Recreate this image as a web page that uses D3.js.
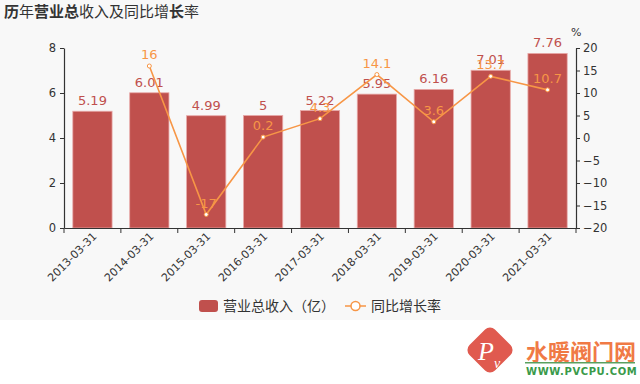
<!DOCTYPE html>
<html><head><meta charset="utf-8">
<script src="https://cdn.jsdelivr.net/npm/d3@7"></script>
<style>body{margin:0;background:#fff;}svg{display:block;font-family:"Noto Sans CJK SC","DejaVu Sans",sans-serif;}</style>
</head><body><svg id="c" width="640" height="384"></svg>
<script>
const categories = ["2013-03-31","2014-03-31","2015-03-31","2016-03-31","2017-03-31","2018-03-31","2019-03-31","2020-03-31","2021-03-31"];
const revenue = [5.19, 6.01, 4.99, 5, 5.22, 5.95, 6.16, 7.01, 7.76];
const growth = [null, 16, -17, 0.2, 4.3, 14.1, 3.6, 13.7, 10.7];
const leftTicks = [0, 2, 4, 6, 8];
const rightTicks = [-20, -15, -10, -5, 0, 5, 10, 15, 20];

const svg = d3.select("#c");
const barColor = "#c0504d", lineColor = "#f79646", axisColor = "#333";
svg.append("rect").attr("x",0).attr("y",0).attr("width",640).attr("height",320).attr("fill","#f8f8f8");

const L = 64, R = 576, T = 48, B = 228;
const x = d3.scaleBand().domain(categories).range([L, R]).paddingInner(0.31).paddingOuter(0.155);
const band = d3.scaleBand().domain(categories).range([L, R]);
const yL = d3.scaleLinear().domain([0, 8]).range([B, T]);
const yR = d3.scaleLinear().domain([-20, 20]).range([B, T]);

// title
const title = svg.append("text").attr("x",4).attr("y",17).attr("font-size",15).attr("fill","#333");
[["历",1],["年",0],["营业总",1],["收入及同比增",0],["长",1],["率",0]].forEach(([t,b])=>{
  title.append("tspan").text(t).attr("font-weight", b?"bold":"normal");
});

// bars
svg.selectAll(".bar").data(categories).enter().append("rect")
  .attr("x", d=>x(d)).attr("width", x.bandwidth())
  .attr("y", (d,i)=>yL(revenue[i])).attr("height",(d,i)=>B-yL(revenue[i]))
  .attr("fill", barColor).attr("stroke","#e8a9a8").attr("stroke-width",0.8);

// axes
const gL = svg.append("g").attr("transform",`translate(${L},0)`)
  .call(d3.axisLeft(yL).tickValues(leftTicks).tickSize(4).tickSizeOuter(0));
const gR = svg.append("g").attr("transform",`translate(${R},0)`)
  .call(d3.axisRight(yR).tickValues(rightTicks).tickSize(4).tickSizeOuter(0));
const gB = svg.append("g").attr("transform",`translate(0,${B})`)
  .call(d3.axisBottom(band).tickSize(0).tickFormat(""));
[gL,gR,gB].forEach(g=>{
  g.select(".domain").attr("stroke",axisColor).attr("stroke-width",1.2);
  g.selectAll("line").attr("stroke",axisColor);
  g.selectAll("text").attr("fill","#333").attr("font-size",11.5).attr("font-family","DejaVu Sans, sans-serif");
});
gL.selectAll("text").attr("dx",-1);
// bottom ticks at band boundaries
const bounds = categories.map(c=>band(c)).concat([R]);
gB.selectAll(".bt").data(bounds).enter().append("line")
  .attr("x1",d=>d).attr("x2",d=>d).attr("y1",0).attr("y2",5).attr("stroke",axisColor);
gB.selectAll(".lbl").data(categories).enter().append("text")
  .attr("transform", d=>`translate(${band(d)+band.bandwidth()/2+5},${9}) rotate(-45)`)
  .attr("text-anchor","end").attr("font-size",11).attr("fill","#333")
  .attr("font-family","DejaVu Sans, sans-serif").text(d=>d);

svg.append("text").attr("x",571).attr("y",36).attr("font-size",11).attr("fill","#333")
  .attr("font-family","DejaVu Sans, sans-serif").text("%");

// bar labels
svg.selectAll(".bl").data(categories).enter().append("text")
  .attr("x", d=>x(d)+x.bandwidth()/2).attr("y",(d,i)=>yL(revenue[i])-6)
  .attr("text-anchor","middle").attr("font-size",13).attr("fill",barColor)
  .attr("font-family","DejaVu Sans, sans-serif").text((d,i)=>revenue[i]);

// line
const pts = categories.map((c,i)=>({c, v:growth[i]})).filter(d=>d.v!==null);
const cx = d=>x(d.c)+x.bandwidth()/2;
svg.append("path").datum(pts)
  .attr("d", d3.line().x(cx).y(d=>yR(d.v)))
  .attr("fill","none").attr("stroke",lineColor).attr("stroke-width",1.6);
svg.selectAll(".pt").data(pts).enter().append("circle")
  .attr("cx",cx).attr("cy",d=>yR(d.v)).attr("r",2)
  .attr("fill","#fff").attr("stroke",lineColor).attr("stroke-width",1);
svg.selectAll(".pl").data(pts).enter().append("text")
  .attr("x",cx).attr("y",d=>yR(d.v)-7)
  .attr("text-anchor","middle").attr("font-size",13).attr("fill",lineColor)
  .attr("font-family","DejaVu Sans, sans-serif").text(d=>d.v);

// legend
const lg = svg.append("g").attr("font-size",14).attr("fill","#333");
lg.append("rect").attr("x",199).attr("y",300).attr("width",19).attr("height",12).attr("rx",3).attr("fill",barColor);
lg.append("text").attr("x",223).attr("y",311).text("营业总收入（亿）");
lg.append("line").attr("x1",345).attr("x2",366).attr("y1",306).attr("y2",306).attr("stroke",lineColor).attr("stroke-width",1.5);
lg.append("circle").attr("cx",355.5).attr("cy",306).attr("r",4.5).attr("fill","#fff").attr("stroke",lineColor).attr("stroke-width",1.5);
lg.append("text").attr("x",371).attr("y",311).text("同比增长率");

// watermark
const wm = svg.append("g");
wm.append("rect").attr("x",472).attr("y",332).attr("width",36).attr("height",36).attr("rx",7)
  .attr("transform","rotate(45,490,350)").attr("fill","#e05a4f");
wm.append("text").attr("x",478).attr("y",360).attr("font-size",26).attr("font-style","italic")
  .attr("font-family","Liberation Serif, serif").attr("fill","#fff").text("P");
wm.append("text").attr("x",494).attr("y",368).attr("font-size",14).attr("font-style","italic")
  .attr("font-family","Liberation Serif, serif").attr("fill","#fff").text("v");
wm.append("text").attr("x",526).attr("y",360).attr("font-size",22).attr("fill","#f07a45")
  .attr("font-weight","bold").text("水暖阀门网");
wm.append("rect").attr("x",525).attr("y",362).attr("width",110).attr("height",1.5).attr("fill","#5aa060");
wm.append("text").attr("x",526).attr("y",375).attr("font-size",10).attr("fill","#3a9a4a")
  .attr("font-weight","bold").attr("font-family","DejaVu Sans, sans-serif").attr("letter-spacing",0.6).text("WWW.PVCPU.COM");
</script></body></html>
